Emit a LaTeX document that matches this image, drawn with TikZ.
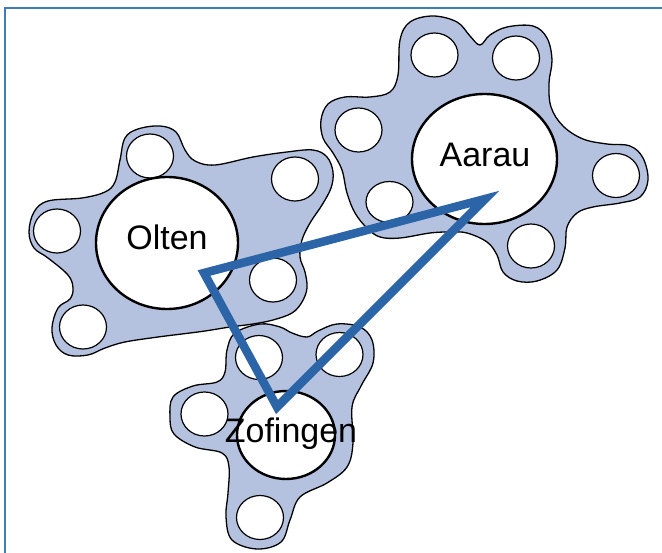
\documentclass[tikz,border=0pt]{standalone}
\usepackage{fontspec}
\setmainfont{Liberation Sans}
\usetikzlibrary{shapes.geometric}
\definecolor{blobfill}{HTML}{B4C2E0}
\definecolor{triblue}{HTML}{2C64A8}
\definecolor{frameblue}{HTML}{3F7CBA}
\begin{document}
\begin{tikzpicture}[x=1pt,y=-1pt,
  blob/.style={fill=blobfill,draw=black,line width=1.3pt},
  hole/.style={ellipse,draw=black,fill=white,line width=1.2pt,inner sep=0pt,minimum width=47pt,minimum height=44pt},
  town/.style={ellipse,draw=black,fill=white,line width=2.4pt,inner sep=0pt},
  lbl/.style={anchor=base,inner sep=0pt,font=\fontsize{34}{40}\selectfont},
  tri/.style={draw=triblue,line width=8.5pt,line join=miter}]
\useasboundingbox (0,0) rectangle (662,553);
% frame
\coordinate (fb) at (5,553);
\coordinate (fc) at (5,8);
\coordinate (fr) at (662,8);
\draw[frameblue,line width=2.5pt] (fb) -- (fc) -- (fr);
% Zofingen blob
\draw[blob] plot[smooth cycle,tension=0.6] coordinates {
 (260,324) (280,327) (292,333) (307,337) (318,331) (337,324) (360,327) (372,340) (373,363)
 (361,386) (352,407) (353,443) (347,467) (327,483) (300,497) (290,520) (281,542) (257,549)
 (232,540) (226,517) (228,493) (229,467) (222,453) (195,447) (174,434) (170,417) (173,397)
 (193,386) (217,382) (225,372) (227,350) (235,333)};
% Olten blob
\draw[blob] plot[smooth cycle,tension=0.6] coordinates {
 (125,138) (138,129) (160,126) (176,132) (185,150) (195,161) (215,165) (253,157) (287,152)
 (313,150) (327,157) (333,172) (331,188) (322,205) (310,223) (302,240) (300,257) (305,272)
 (307,288) (302,302) (292,313) (273,320) (253,324) (230,327) (205,331) (182,334) (158,337)
 (125,342) (105,348) (88,355) (68,355) (56,345) (52,328) (58,308) (70,299) (73,288) (68,275)
 (48,258) (34,248) (29,232) (34,212) (48,201) (82,198) (105,192) (115,182) (120,160)};
% Aarau blob
\draw[blob] plot[smooth cycle,tension=0.6] coordinates {
 (400,40) (410,22) (433,16) (457,22) (470,36) (480,45) (490,35) (507,27) (533,26) (547,38)
 (552,60) (549,83) (551,107) (563,126) (583,139) (607,144) (630,146) (643,158) (648,180)
 (640,197) (620,203) (593,207) (577,213) (567,227) (565,248) (557,270) (537,281) (517,281)
 (503,272) (497,255) (487,242) (467,233) (450,232) (430,233) (400,238) (380,237) (367,228)
 (355,213) (347,193) (342,170) (333,153) (323,138) (321,120) (328,104) (345,97) (370,97)
 (390,92) (398,75)};
% small circles
\node[hole] (o1) at (150,156) {};
\node[hole] (o2) at (295,179) {};
\node[hole] (o3) at (57,231) {};
\node[hole] (o4) at (273,280) {};
\node[hole] (o5) at (83,327) {};
\node[hole] (a1) at (434.5,55) {};
\node[hole] (a2) at (516,58) {};
\node[hole] (a3) at (358.5,130) {};
\node[hole,minimum height=41pt] (a4) at (389.5,202) {};
\node[hole] (a5) at (616,175.5) {};
\node[hole] (a6) at (531,246) {};
\node[hole] (z1) at (259,357.5) {};
\node[hole] (z2) at (339.5,354.5) {};
\node[hole] (z3) at (204.5,414) {};
\node[hole] (z4) at (260,517.5) {};
% town circles
\node[town,minimum width=142pt,minimum height=132pt] (olten) at (167,243) {};
\node[town,minimum width=145pt,minimum height=130pt] (aarau) at (484.5,159) {};
\node[town,minimum width=98pt,minimum height=88pt] (zofingen) at (286,435) {};
% labels
\node[lbl] (oltenlbl) at (167,250) {Olten};
\node[lbl] (aaraulbl) at (485,167) {Aarau};
\node[lbl] (zofingenlbl) at (291,443) {Zofingen};
% triangle
\coordinate (tO) at (204,273);
\coordinate (tA) at (485,199);
\coordinate (tZ) at (277,407);
\draw[tri] (tO) -- (tA) -- (tZ) -- cycle;
\end{tikzpicture}
\end{document}
